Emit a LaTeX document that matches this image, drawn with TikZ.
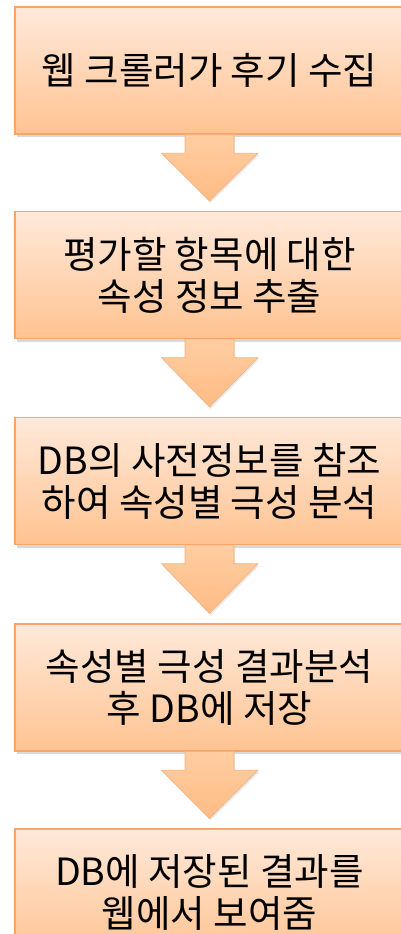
\documentclass[tikz,border=0pt]{standalone}
\usepackage{fontspec}
\newfontfamily\krfont{Noto Sans CJK KR}
\usetikzlibrary{calc,shadows}
\definecolor{boxtop}{HTML}{FFE9DA}
\definecolor{boxbot}{HTML}{FFC391}
\definecolor{boxline}{HTML}{F9A468}
\definecolor{arrtop}{HTML}{FFCDA2}
\definecolor{arrbot}{HTML}{FFBC84}
\definecolor{arrline}{HTML}{F7B07C}
\tikzset{
  stepbox/.style={draw=boxline, line width=1.3pt, top color=boxtop, bottom color=boxbot,
    minimum width=389pt, minimum height=127pt, inner sep=0pt, align=center,
    font=\krfont\fontsize{37.5}{42}\selectfont, text=black,
    drop shadow={shadow xshift=2pt, shadow yshift=-3pt, opacity=0.25, fill=black!60}},
  flowarrow/.style={draw=arrline, line width=0.6pt, top color=arrtop, bottom color=arrbot,
    drop shadow={shadow xshift=1pt, shadow yshift=-2pt, opacity=0.15, fill=black!60}}
}
\begin{document}
\begin{tikzpicture}[x=1pt,y=-1pt]
\useasboundingbox (0,0) rectangle (401,934);
\node[stepbox] (b1) at (209.5,70.5) {웹 크롤러가 후기 수집};
\node[stepbox] (b2) at (209.5,275) {평가할 항목에 대한\\속성 정보 추출};
\node[stepbox] (b3) at (209.5,481) {DB의 사전정보를 참조\\하여 속성별 극성 분석};
\node[stepbox] (b4) at (209.5,687.5) {속성별 극성 결과분석\\후 DB에 저장};
\node[stepbox] (b5) at (209.5,892.5) {DB에 저장된 결과를\\웹에서 보여줌};
\foreach \a/\b in {b1/b2,b2/b3,b3/b4,b4/b5}{
  \path[flowarrow] ($(\a.south)+(-24.5,0)$) -- ++(0,18.5) -- ++(-23.5,0)
    -- ($(\b.north)+(0,-10)$) -- ($(\a.south)+(48.5,18.5)$) -- ++(-24,0)
    -- ($(\a.south)+(24.5,0)$) -- cycle;
}
\end{tikzpicture}
\end{document}
